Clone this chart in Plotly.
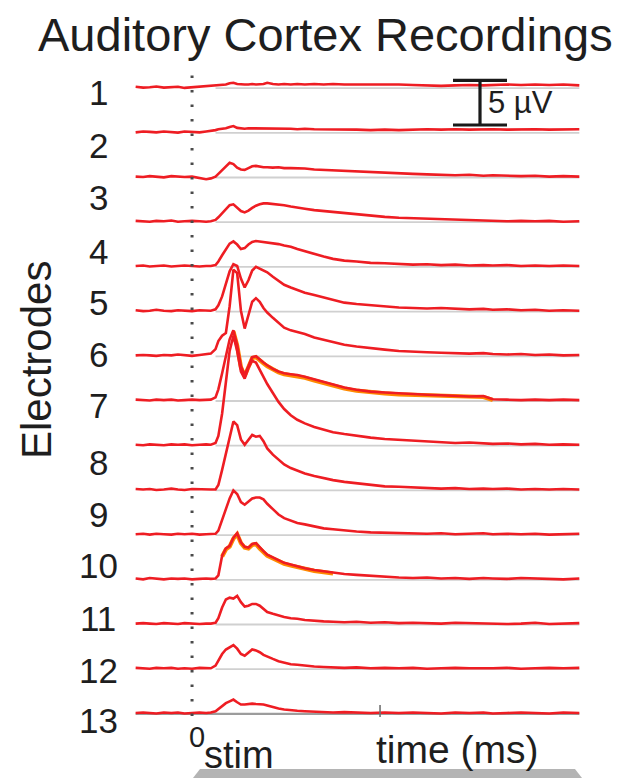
import plotly.graph_objects as go

# ---------------- data ----------------
time_ms = [-60, -52, -45, -38, -30, -22, -15, -8, 0, 8, 15, 20, 25, 28, 32, 36, 40, 44, 48, 52,
           56, 60, 64, 68, 72, 76, 80, 86, 92, 98, 105, 112, 120, 130, 140, 150, 162, 175, 190, 205,
           220, 235, 250, 265, 280, 295, 310, 320, 335, 350, 365, 380, 395, 412]

# amplitudes in microvolts, one list per recorded trace (top to bottom)
e1 = [0.05, -0.05, 0.0, 0.08, -0.05, 0.0, 0.05, -0.08, 0.0, 0.05, 0.1,
      0.15, 0.2, 0.25, 0.3, 0.3, 0.45, 0.5, 0.35, 0.3, 0.3,
      0.3, 0.35, 0.3, 0.3, 0.35, 0.5, 0.35, 0.3, 0.35, 0.3,
      0.35, 0.3, 0.35, 0.3, 0.35, 0.3, 0.3, 0.35, 0.3, 0.3,
      0.25, 0.2, 0.15, 0.2, 0.25, 0.2, 0.25, 0.3, 0.25, 0.3, 0.25, 0.3, 0.2]
e2 = [-0.05, 0.05, 0.0, -0.05, 0.05, 0.0, -0.08, 0.05, 0.0, -0.05, 0.05,
      0.1, 0.2, 0.3, 0.35, 0.4, 0.55, 0.65, 0.45, 0.4, 0.35,
      0.4, 0.4, 0.35, 0.4, 0.35, 0.4, 0.35, 0.4, 0.35, 0.35,
      0.3, 0.35, 0.3, 0.3, 0.25, 0.3, 0.25, 0.2, 0.25, 0.2,
      0.25, 0.3, 0.25, 0.3, 0.25, 0.3, 0.3, 0.25, 0.3, 0.3, 0.25, 0.3, 0.3]
e3 = [0.0, -0.05, 0.05, 0.0, -0.08, 0.05, 0.0, -0.05, 0.0, -0.15, -0.3,
      -0.2, 0.0, 0.3, 0.7, 1.1, 1.55, 1.4, 1.0, 0.8, 0.75,
      0.95, 1.15, 1.2, 1.1, 1.05, 1.05, 1.0, 1.05, 0.95, 0.95,
      0.95, 0.9, 0.8, 0.75, 0.7, 0.6, 0.55, 0.45, 0.4, 0.3,
      0.3, 0.25, 0.2, 0.15, 0.2, 0.1, 0.15, 0.1, 0.05, 0.1, 0.0, 0.05, 0.0]
e4 = [0.05, 0.0, -0.05, 0.05, 0.0, 0.08, -0.05, 0.0, 0.05, 0.0, -0.05,
      0.0, 0.15, 0.45, 0.9, 1.35, 1.8, 1.9, 1.5, 1.15, 1.0,
      1.2, 1.5, 1.75, 1.9, 2.0, 2.0, 1.95, 1.85, 1.8, 1.65,
      1.5, 1.4, 1.25, 1.15, 1.0, 0.9, 0.75, 0.6, 0.5, 0.4,
      0.35, 0.3, 0.2, 0.15, 0.1, 0.05, 0.1, 0.0, 0.05, 0.0, 0.05, -0.05, 0.0]
e5 = [0.0, 0.05, -0.05, 0.0, 0.05, -0.05, 0.0, 0.05, 0.0, -0.05, 0.0,
      0.0, 0.1, 0.5, 1.2, 1.9, 2.5, 2.75, 2.4, 1.9, 2.0,
      2.4, 2.7, 2.8, 2.75, 2.7, 2.65, 2.55, 2.45, 2.3, 2.15,
      1.9, 1.65, 1.35, 1.05, 0.8, 0.6, 0.5, 0.35, 0.3, 0.2,
      0.15, 0.2, 0.1, 0.15, 0.05, 0.1, 0.05, 0.1, 0.0, 0.05, 0.0, 0.05, 0.0]
e6 = [0.05, -0.05, 0.0, 0.1, 0.0, -0.05, 0.05, 0.0, -0.05, 0.05, 0.0,
      0.0, 0.15, 0.6, 1.6, 3.0, 4.4, 5.2, 5.0, 3.6, 2.6,
      3.4, 4.5, 4.9, 4.7, 4.5, 4.3, 3.8, 3.3, 2.9, 2.6,
      2.3, 2.0, 1.75, 1.5, 1.2, 0.9, 0.75, 0.6, 0.5, 0.35,
      0.3, 0.25, 0.3, 0.2, 0.15, 0.2, 0.1, 0.15, 0.05, 0.1, 0.0, 0.05, 0.0]
e7 = [0.0, 0.05, 0.0, -0.05, 0.05, 0.0, 0.1, 0.0, -0.05, 0.05, 0.1,
      0.2, 0.7, 1.6, 2.2, 2.5, 5.5, 9.6, 9.2, 5.0, 3.0,
      4.4, 6.0, 6.4, 6.0, 5.3, 4.8, 4.2, 3.6, 3.1, 2.8,
      2.6, 2.4, 2.0, 1.75, 1.5, 1.2, 1.0, 0.8, 0.65, 0.5,
      0.4, 0.35, 0.3, 0.25, 0.2, 0.25, 0.15, 0.1, 0.15, 0.05, 0.1, 0.0, 0.05]
e8 = [0.05, 0.0, -0.05, 0.05, 0.0, 0.05, -0.05, 0.0, 0.05, 0.0, 0.05,
      0.05, 0.3, 1.2, 3.0, 5.0, 6.8, 7.8, 6.2, 3.8, 2.8,
      3.8, 4.8, 4.9, 4.5, 4.2, 3.9, 3.5, 3.2, 3.0, 2.9,
      2.8, 2.6, 2.3, 2.0, 1.7, 1.4, 1.15, 0.95, 0.85, 0.75,
      0.7, 0.6, 0.55, 0.5, 0.4, 0.45, 0.1, 0.05, 0.0, 0.05, 0.0, 0.05, 0.0]
e9 = [0.0, -0.05, 0.05, 0.0, -0.05, 0.05, 0.0, 0.05, -0.05, 0.0, 0.05,
      0.0, 0.2, 1.0, 3.5, 7.0, 10.5, 12.2, 10.5, 8.2, 7.4,
      8.6, 9.4, 9.2, 8.4, 7.6, 6.8, 5.8, 4.8, 4.0, 3.3,
      2.8, 2.4, 2.0, 1.7, 1.4, 1.2, 1.0, 0.8, 0.65, 0.55,
      0.45, 0.35, 0.3, 0.2, 0.25, 0.15, 0.1, 0.15, 0.05, 0.1, 0.0, 0.05, 0.0]
e10 = [0.05, 0.0, 0.05, -0.05, 0.0, 0.1, 0.0, -0.05, 0.05, 0.0, -0.05,
       0.0, 0.0, 0.5, 2.2, 4.0, 6.0, 7.6, 7.2, 5.6, 5.0,
       5.6, 6.1, 5.9, 6.0, 5.4, 4.6, 3.9, 3.4, 2.8, 2.4,
       2.1, 1.8, 1.5, 1.25, 1.05, 0.85, 0.7, 0.5, 0.35, 0.3,
       0.25, 0.2, 0.1, 0.15, 0.05, 0.1, 0.05, 0.1, 0.0, 0.05, 0.0, 0.05, 0.0]
e11 = [0.0, 0.05, -0.05, 0.05, 0.0, -0.05, 0.05, 0.0, 0.05, -0.05, 0.0,
       0.0, 0.05, 0.4, 1.5, 2.8, 4.0, 4.9, 4.5, 3.6, 3.3,
       3.7, 4.0, 4.1, 4.1, 3.9, 3.4, 2.8, 2.2, 1.8, 1.5,
       1.25, 1.1, 0.85, 0.65, 0.55, 0.4, 0.3, 0.2, 0.15, 0.1,
       0.1, 0.05, 0.1, 0.0, 0.05, 0.1, 0.0, 0.05, 0.0, 0.05, -0.05, 0.0, 0.05]
e12 = [0.05, -0.05, 0.1, 0.0, -0.05, 0.05, 0.0, 0.05, -0.05, 0.0, 0.05,
       0.0, 0.05, 0.4, 2.6, 3.4, 3.7, 4.6, 5.1, 4.1, 3.6,
       3.5, 3.9, 4.0, 3.5, 3.1, 2.7, 2.4, 2.1, 1.8, 1.6,
       1.4, 1.2, 1.0, 0.85, 0.7, 0.55, 0.45, 0.35, 0.2, 0.15,
       0.1, 0.15, 0.05, 0.1, 0.0, 0.1, 0.05, 0.0, 0.1, 0.05, 0.0, -0.05, 0.05]
e13 = [0.0, 0.05, 0.0, -0.05, 0.05, 0.0, -0.05, 0.05, 0.0, -0.05, 0.0,
       0.0, 0.1, 0.6, 1.8, 2.7, 2.9, 2.8, 3.1, 2.4, 1.9,
       2.0, 2.2, 2.2, 2.0, 1.6, 1.3, 1.1, 0.9, 0.75, 0.6,
       0.55, 0.4, 0.3, 0.25, 0.2, 0.15, 0.2, 0.1, 0.15, 0.05,
       0.1, 0.05, 0.0, 0.1, 0.05, 0.0, 0.05, -0.05, 0.0, 0.1, -0.05, 0.0, 0.05]
e14 = [0.05, 0.0, -0.05, 0.05, 0.0, 0.05, -0.05, 0.0, -0.05, 0.05, 0.0,
       0.0, 0.3, 0.9, 1.6, 2.1, 2.4, 2.6, 2.2, 1.6, 1.4,
       1.8, 2.1, 2.0, 1.8, 1.5, 1.3, 1.05, 0.8, 0.6, 0.45,
       0.4, 0.3, 0.2, 0.15, 0.1, 0.05, 0.1, 0.0, 0.05, 0.0,
       0.05, -0.05, 0.0, 0.05, 0.0, -0.05, 0.0, 0.05, -0.05, 0.0, 0.05, 0.0, 0.05]
e15 = [0.0, 0.05, 0.0, -0.05, 0.05, 0.0, 0.05, -0.05, 0.0, 0.05, 0.0,
       0.05, 0.2, 0.45, 0.8, 1.1, 1.3, 1.5, 1.2, 0.95, 0.95,
       1.0, 1.05, 1.0, 1.0, 0.95, 0.85, 0.65, 0.5, 0.4, 0.3,
       0.25, 0.2, 0.15, 0.1, 0.05, 0.1, 0.05, 0.0, 0.05, 0.0,
       0.05, 0.0, -0.05, 0.05, 0.0, 0.05, -0.05, 0.0, 0.05, 0.0, -0.05, 0.05, 0.0]

recordings = [e1, e2, e3, e4, e5, e6, e7, e8, e9, e10, e11, e12, e13, e14, e15]
for rec in recordings:
    assert len(rec) == len(time_ms)

trace_spacing_uv = 5          # vertical offset between stacked traces
scale_bar_uv = 5              # scale bar height
scale_bar_label = "5 µV"
stim_time_ms = 0
axis_tick_ms = 200

electrode_labels = ["1", "2", "3", "4", "5", "6", "7", "8", "9", "10", "11", "12", "13"]

# ---------------- layout geometry ----------------
PAGE_OFF = 8                      # default body margin of the html page
W, H = 623 - PAGE_OFF, 778 - PAGE_OFF
X0_PX, PX_PER_MS = 192.04 - PAGE_OFF, 0.94      # pixel of t=0, pixels per ms
Y0_PX, PX_PER_UV = 713.0 - PAGE_OFF, 8.94        # pixel of bottom baseline, pixels per µV
x_range = [-X0_PX / PX_PER_MS, (W - X0_PX) / PX_PER_MS]
y_range = [(Y0_PX - H) / PX_PER_UV, Y0_PX / PX_PER_UV]

def px(xp, yp):
    """screen pixel of the window -> paper coordinates"""
    return (xp - PAGE_OFF) / W, 1 - (yp - PAGE_OFF) / H

def ypx_to_uv(yp):
    return (Y0_PX - (yp - PAGE_OFF)) / PX_PER_UV

def xpx_to_ms(xp):
    return ((xp - PAGE_OFF) - X0_PX) / PX_PER_MS

label_centers_px = [92.5, 146, 197.5, 251, 302.5, 354, 405.5, 462.5, 514, 565.5, 618, 670, 720.5]

RED = "#ee1d23"
ORANGE = "#ff8a00"
TEXT = "#1e1e1e"
FONT = "Liberation Sans, Arial, sans-serif"

fig = go.Figure()
shapes = []
n = len(recordings)
t_start, t_end = time_ms[0], time_ms[-1]

for i, rec in enumerate(recordings):
    off = (n - 1 - i) * trace_spacing_uv
    if i == n - 1:
        shapes.append(dict(type="line", xref="x", yref="y", x0=t_start, x1=t_end, y0=off - 0.1, y1=off - 0.1,
                           line=dict(color="#9c9c9c", width=2.4), layer="below"))
    else:
        shapes.append(dict(type="line", xref="x", yref="y", x0=25, x1=t_end, y0=off - 0.1, y1=off - 0.1,
                           line=dict(color="#d0d0d0", width=1.8), layer="below"))

# orange under-strokes on two traces (index of trace, first and last sample)
for idx, a, b in [(7, 17, 48), (11, 14, 36)]:
    off = (n - 1 - idx) * trace_spacing_uv
    fig.add_trace(go.Scatter(x=time_ms[a:b], y=[off + v - 0.1 for v in recordings[idx][a:b]],
                             mode="lines", line=dict(color=ORANGE, width=4.2),
                             hoverinfo="skip", showlegend=False))

for i, rec in enumerate(recordings):
    off = (n - 1 - i) * trace_spacing_uv
    fig.add_trace(go.Scatter(x=time_ms, y=[off + v for v in rec], mode="lines",
                             line=dict(color=RED, width=2.6), name=f"trace {i + 1}",
                             showlegend=False))

# stimulus dotted line
shapes.append(dict(type="line", xref="x", yref="y", x0=stim_time_ms, x1=stim_time_ms,
                   y0=ypx_to_uv(716), y1=ypx_to_uv(64),
                   line=dict(color="#4a4a4a", width=3, dash="2.5px,12px")))
# small axis tick on the bottom trace
shapes.append(dict(type="line", xref="x", yref="y", x0=axis_tick_ms, x1=axis_tick_ms,
                   y0=-0.45, y1=0.9, line=dict(color="#707070", width=1.6)))

# scale bar
sb_x = xpx_to_ms(480)
sb_half = 27 / PX_PER_MS
sb_bottom = ypx_to_uv(125)
sb_top = sb_bottom + scale_bar_uv
for y0, y1, x0, x1 in [(sb_bottom, sb_top, sb_x, sb_x),
                       (sb_top, sb_top, sb_x - sb_half, sb_x + sb_half),
                       (sb_bottom, sb_bottom, sb_x - sb_half, sb_x + sb_half)]:
    shapes.append(dict(type="line", xref="x", yref="y", x0=x0, x1=x1, y0=y0, y1=y1,
                       line=dict(color="#1a1a1a", width=3.2)))

# grey bar at the bottom edge
bx0, by0 = px(193, 778)
bx1, by1 = px(200, 769)
bx2, _ = px(575, 769)
bx3, _ = px(582, 778)
shapes.append(dict(type="path", xref="paper", yref="paper",
                   path=f"M {bx0},{by0} L {bx1},{by1} L {bx2},{by1} L {bx3},{by0} Z",
                   fillcolor="#b4b4b4", line=dict(width=0)))

annotations = []
def add_text(text, xp, yp, size, xanchor="center", yanchor="middle", angle=0):
    ax, ay = px(xp, yp)
    annotations.append(dict(text=text, x=ax, y=ay, xref="paper", yref="paper", showarrow=False,
                            xanchor=xanchor, yanchor=yanchor, textangle=angle,
                            font=dict(family=FONT, size=size, color=TEXT)))

add_text("Auditory Cortex Recordings", 325, 35, 47)
for lab, yc in zip(electrode_labels, label_centers_px):
    add_text(lab, 98, yc, 35)
add_text("Electrodes", 37, 360, 42, angle=-90)
add_text("0", 197, 737, 29)
add_text("stim", 239, 755, 38)
add_text("time (ms)", 457, 749, 39)
add_text(scale_bar_label, 486, 103, 31, xanchor="left")

fig.update_layout(
    width=W, height=H, autosize=False,
    margin=dict(l=0, r=0, t=0, b=0),
    paper_bgcolor="white", plot_bgcolor="white",
    xaxis=dict(range=x_range, visible=False, fixedrange=True),
    yaxis=dict(range=y_range, visible=False, fixedrange=True),
    shapes=shapes, annotations=annotations, showlegend=False,
)

fig.write_html("out.html")
